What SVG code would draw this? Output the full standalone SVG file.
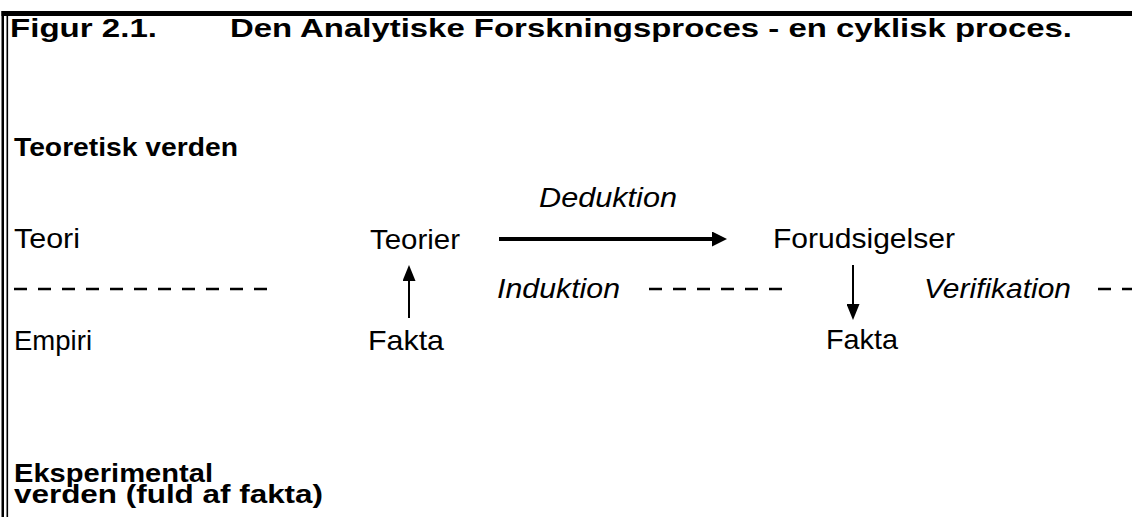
<svg xmlns="http://www.w3.org/2000/svg" width="1132" height="517" viewBox="0 0 1132 517">
<style>
  .b { font-family: "Liberation Sans", Arial, sans-serif; font-weight: bold; font-size: 25px; fill: #000; }
  .t { font-family: "Liberation Sans", Arial, sans-serif; font-size: 28px; fill: #000; }
  .i { font-family: "Liberation Sans", Arial, sans-serif; font-style: italic; font-size: 28px; fill: #000; }
  .dash { stroke: #000; stroke-width: 2.5; stroke-dasharray: 13 11; fill: none; }
  .conn { stroke: #000; fill: none; }
</style>
<defs>
  <marker id="head" viewBox="0 0 15 15" refX="0" refY="7.5" markerWidth="15" markerHeight="15" markerUnits="userSpaceOnUse" orient="auto">
    <path d="M0,0 L15,7.5 L0,15 z" fill="#000"/>
  </marker>
  <marker id="headS" viewBox="0 0 16 13" refX="0" refY="6.5" markerWidth="16" markerHeight="13" markerUnits="userSpaceOnUse" orient="auto">
    <path d="M0,0 L16,6.5 L0,13 z" fill="#000"/>
  </marker>
</defs>
<rect width="1132" height="517" fill="#fff"/>
<g id="frame" fill="#000">
  <rect x="1.5" y="11" width="2.5" height="506"/>
  <rect x="1.5" y="11" width="1130.5" height="5"/>
  <rect x="6.5" y="16" width="1.6" height="501"/>
</g>
<g id="title">
  <text class="b" x="10" y="37" font-size="27" textLength="147" lengthAdjust="spacingAndGlyphs">Figur 2.1.</text>
  <text class="b" x="230" y="37" font-size="27" textLength="842" lengthAdjust="spacingAndGlyphs">Den Analytiske Forskningsproces - en cyklisk proces.</text>
</g>
<g id="labels">
  <text class="b" x="14" y="156" textLength="224" lengthAdjust="spacingAndGlyphs">Teoretisk verden</text>
  <text class="t" x="14" y="248" textLength="66" lengthAdjust="spacingAndGlyphs">Teori</text>
  <text class="t" x="14" y="350" textLength="78" lengthAdjust="spacingAndGlyphs">Empiri</text>
  <text class="b" x="14" y="482" textLength="199" lengthAdjust="spacingAndGlyphs">Eksperimental</text>
  <text class="b" x="14" y="503" textLength="309" lengthAdjust="spacingAndGlyphs">verden (fuld af fakta)</text>
</g>
<g id="dividers">
  <line class="dash" x1="14" y1="289" x2="268" y2="289"/>
  <line class="dash" x1="649" y1="289" x2="783" y2="289"/>
  <line class="dash" x1="1098" y1="289" x2="1132" y2="289"/>
</g>
<g id="node-teorier"><text class="t" x="370" y="249" textLength="90" lengthAdjust="spacingAndGlyphs">Teorier</text></g>
<g id="node-fakta1"><text class="t" x="368" y="350" textLength="76" lengthAdjust="spacingAndGlyphs">Fakta</text></g>
<g id="node-forudsigelser"><text class="t" x="773" y="248" textLength="182" lengthAdjust="spacingAndGlyphs">Forudsigelser</text></g>
<g id="node-fakta2"><text class="t" x="826" y="349" textLength="72" lengthAdjust="spacingAndGlyphs">Fakta</text></g>
<g id="connectors">
  <line class="conn" x1="499" y1="239" x2="712" y2="239" stroke-width="4" marker-end="url(#head)"/>
  <line class="conn" x1="409" y1="318" x2="409" y2="281" stroke-width="2" marker-end="url(#headS)"/>
  <line class="conn" x1="853" y1="265" x2="853" y2="304" stroke-width="2" marker-end="url(#headS)"/>
</g>
<g id="connector-labels">
  <text class="i" x="539" y="207" textLength="138" lengthAdjust="spacingAndGlyphs">Deduktion</text>
  <text class="i" x="497" y="298" textLength="123" lengthAdjust="spacingAndGlyphs">Induktion</text>
  <text class="i" x="924" y="298" textLength="147" lengthAdjust="spacingAndGlyphs">Verifikation</text>
</g>
</svg>
